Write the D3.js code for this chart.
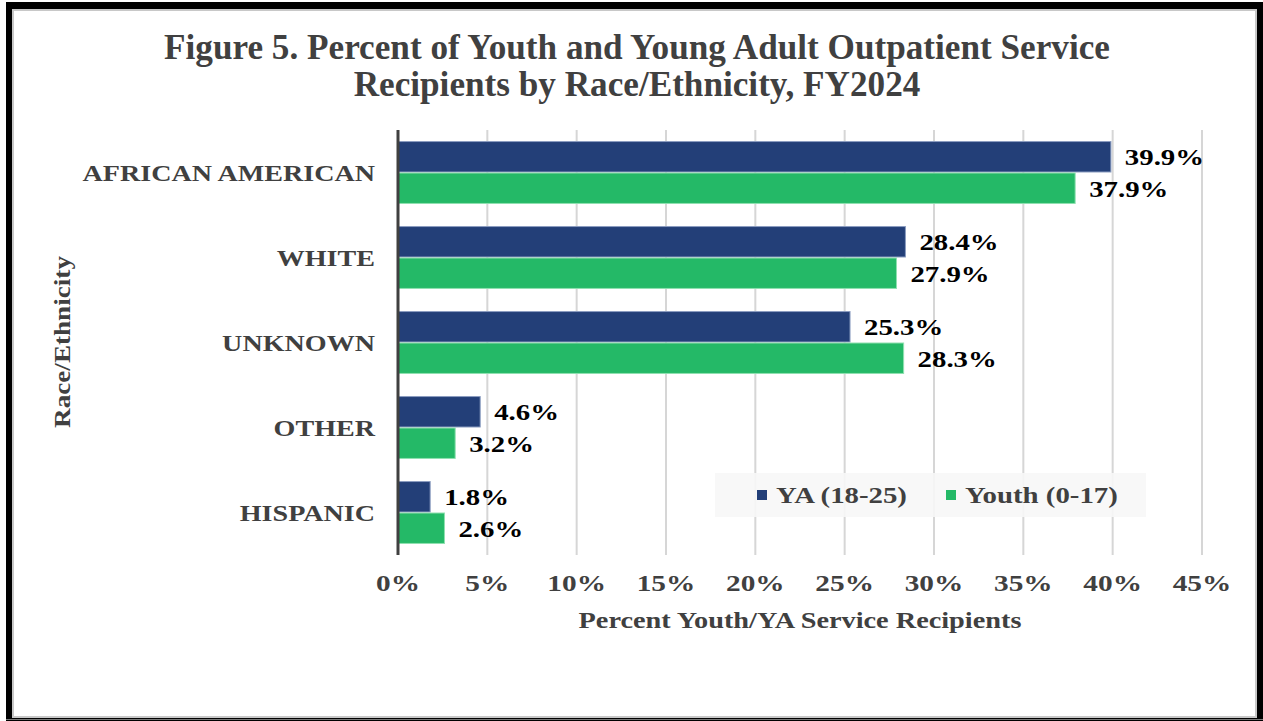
<!DOCTYPE html>
<html><head><meta charset="utf-8">
<script src="https://cdn.jsdelivr.net/npm/d3@7"></script>
<style>html,body{margin:0;padding:0;background:#fff;}svg{display:block;}</style>
</head><body>
<svg id="chart" width="1263" height="721"></svg>
<script>
const categories = ["AFRICAN AMERICAN", "WHITE", "UNKNOWN", "OTHER", "HISPANIC"];
const seriesNames = ["YA (18-25)", "Youth (0-17)"];
const yaValues = [39.9, 28.4, 25.3, 4.6, 1.8];
const youthValues = [37.9, 27.9, 28.3, 3.2, 2.6];
const tickValues = [0, 5, 10, 15, 20, 25, 30, 35, 40, 45];
const titleLines = ["Figure 5. Percent of Youth and Young Adult Outpatient Service", "Recipients by Race/Ethnicity, FY2024"];
const colors = ["#233f78", "#24b967"];

const svg = d3.select("#chart");
const font = "'Liberation Serif', 'Times New Roman', serif";

// horizontal stretch to mimic the wide rendering of the original
function stretch(sel, k) {
  sel.each(function() {
    const w = this.getComputedTextLength();
    d3.select(this).attr("textLength", w * k).attr("lengthAdjust", "spacingAndGlyphs");
  });
}

// frame
svg.append("rect").attr("x",0).attr("y",0).attr("width",1263).attr("height",721).attr("fill","#fff");
svg.append("rect").attr("x",6).attr("y",2).attr("width",1257).attr("height",719).attr("fill","#000");
svg.append("rect").attr("x",13).attr("y",10).attr("width",1243).attr("height",707).attr("fill","#fff")
  .attr("stroke","#c8c8c8").attr("stroke-width",2);
svg.append("line").attr("x1",6).attr("x2",1263).attr("y1",719.5).attr("y2",719.5).attr("stroke","#777").attr("stroke-width",1);

// title
const titles = svg.append("g").selectAll("text").data(titleLines).join("text")
  .attr("x", 637).attr("y", (d,i)=> 59 + i*37)
  .attr("text-anchor","middle").attr("font-family",font).attr("font-weight","bold")
  .attr("font-size", 35).attr("fill","#404040").text(d=>d);
stretch(titles, 1.005);

const x = d3.scaleLinear().domain([0, 45]).range([398, 1202]);
const y = d3.scaleBand().domain(categories).range([130, 555]).paddingInner(0.26).paddingOuter(0.13);
const ySub = d3.scaleBand().domain(seriesNames).range([0, y.bandwidth()]);

// gridlines
svg.append("g").selectAll("line").data(tickValues.slice(1)).join("line")
  .attr("x1", d=>x(d)).attr("x2", d=>x(d)).attr("y1",130).attr("y2",555)
  .attr("stroke","#d6d6d6").attr("stroke-width",2);

// bars
const rows = categories.map((c,i)=>({cat:c, vals:[yaValues[i], youthValues[i]]}));
const g = svg.append("g");
const valueLabels = [];
rows.forEach(r=>{
  r.vals.forEach((v,j)=>{
    const yy = y(r.cat) + ySub(seriesNames[j]);
    g.append("rect").attr("x", x(0)).attr("y", yy + 0.5)
      .attr("width", x(v)-x(0)).attr("height", ySub.bandwidth()-1)
      .attr("fill", colors[j]).attr("stroke", j===0 ? "#8a9cc0" : "#8fe0b0").attr("stroke-width",1);
    const t = g.append("text").attr("x", x(v)+14).attr("y", yy + ySub.bandwidth()/2)
      .attr("dy","0.35em").attr("font-family",font).attr("font-weight","bold")
      .attr("font-size",24).attr("fill","#000").text(v.toFixed(1)+"%");
    stretch(t, 1.2);
  });
});

// y axis line
svg.append("line").attr("x1",x(0)).attr("x2",x(0)).attr("y1",130).attr("y2",555)
  .attr("stroke","#404040").attr("stroke-width",3);

// category labels
const cats = svg.append("g").selectAll("text").data(categories).join("text")
  .attr("x", 375).attr("y", d=>y(d)+y.bandwidth()/2).attr("dy","0.35em")
  .attr("text-anchor","end").attr("font-family",font).attr("font-weight","bold")
  .attr("font-size",24).attr("fill","#404040").text(d=>d);
stretch(cats, 1.17);

// x tick labels
const ticks = svg.append("g").selectAll("text").data(tickValues).join("text")
  .attr("x", d=>x(d)).attr("y", 583).attr("dy","0.35em")
  .attr("text-anchor","middle").attr("font-family",font).attr("font-weight","bold")
  .attr("font-size",24).attr("fill","#404040").text(d=>d+"%");
stretch(ticks, 1.22);

// axis titles
const xt = svg.append("text").attr("x", 800).attr("y", 620).attr("dy","0.35em")
  .attr("text-anchor","middle").attr("font-family",font).attr("font-weight","bold")
  .attr("font-size",23).attr("fill","#404040").text("Percent Youth/YA Service Recipients");
stretch(xt, 1.23);
const yt = svg.append("text").attr("transform","translate(62,342) rotate(-90)").attr("dy","0.35em")
  .attr("text-anchor","middle").attr("font-family",font).attr("font-weight","bold")
  .attr("font-size",23).attr("fill","#404040").text("Race/Ethnicity");
stretch(yt, 1.18);

// legend
const leg = svg.append("g");
leg.append("rect").attr("x",715).attr("y",473).attr("width",431).attr("height",44).attr("fill","#f7f7f7").attr("opacity",0.9);
const legX = [757, 946];
seriesNames.forEach((s,i)=>{
  leg.append("rect").attr("x",legX[i]).attr("y",490).attr("width",10).attr("height",10).attr("fill",colors[i]);
  const t = leg.append("text").attr("x",legX[i]+19).attr("y",495).attr("dy","0.35em")
    .attr("font-family",font).attr("font-weight","bold").attr("font-size",24).attr("fill","#404040").text(s);
  stretch(t, 1.2);
});
</script>
</body></html>
